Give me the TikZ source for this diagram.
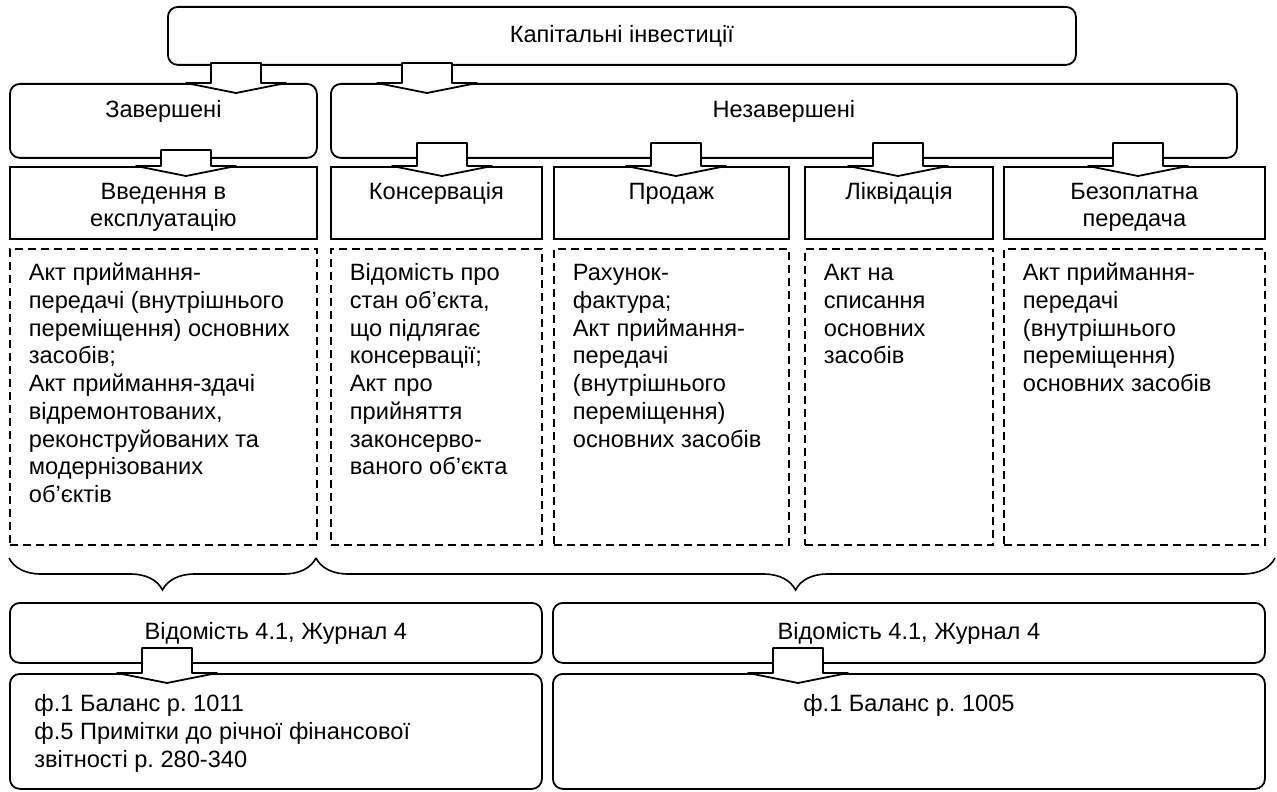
\documentclass[tikz,border=0pt]{standalone}
\usepackage{fontspec}
\setmainfont{Liberation Sans}
\usetikzlibrary{positioning,decorations.pathreplacing}
\frenchspacing

\newcommand{\boxtext}[4]{\parbox[c][#1][t]{#2}{\vspace*{#3}#4}}

\tikzset{
  pics/barrow/.style={code={
    \draw[barr] (-25,-#1) -- (25,-#1) -- (25,0) -- (50,0) -- (0,10) -- (-50,0) -- (-25,0) -- cycle;
  }}
}

\begin{document}
\begin{tikzpicture}[
  x=0.5pt, y=-0.5pt,
  font=\fontsize{11.8}{13.85}\selectfont,
  rbox/.style={draw, line width=0.9pt, rounded corners=5pt, inner sep=0pt, anchor=north west},
  sbox/.style={draw, line width=0.9pt, inner sep=0pt, anchor=north west},
  dbox/.style={draw, line width=0.9pt, dash pattern=on 4pt off 2.5pt, inner ysep=0pt, inner xsep=9.5pt, anchor=north west},
  barr/.style={fill=white, line width=0.9pt, line join=round},
  brc/.style={decorate, decoration={brace, mirror, amplitude=16pt}, line width=0.8pt}
]
  \useasboundingbox (0,0) rectangle (1277,791);

  \node[rbox, minimum width=454pt, minimum height=29pt] (cap) at (167,6) {Капітальні інвестиції};
  \node[rbox] (zav) at (9,83) {\boxtext{37pt}{153.5pt}{7.3pt}{\centering\strut Завершені}};
  \node[rbox] (nez) at (330,83) {\boxtext{37pt}{453pt}{7.3pt}{\centering\strut Незавершені}};

  \node[sbox] (vved) at (9,166) {\boxtext{36pt}{153.5pt}{6.5pt}{\centering\strut Введення в\\експлуатацію}};
  \node[sbox] (kons) at (330,166) {\boxtext{36pt}{105.5pt}{6.5pt}{\centering\strut Консервація}};
  \node[sbox] (prod) at (553,166) {\boxtext{36pt}{117.5pt}{6.5pt}{\centering\strut Продаж}};
  \node[sbox] (likv) at (804,166) {\boxtext{36pt}{94pt}{6.5pt}{\centering\strut Ліквідація}};
  \node[sbox] (bez) at (1003,166) {\boxtext{36pt}{130.5pt}{6.5pt}{\centering\strut Безоплатна\\передача}};

  \node[dbox] (d1) at (9,248) {\boxtext{148pt}{134.5pt}{6.3pt}{\raggedright\strut Акт приймання-\\передачі (внутрішнього\\переміщення) основних\\засобів;\\Акт приймання-здачі\\відремонтованих,\\реконструйованих та\\модернізованих\\об’єктів}};
  \node[dbox] (d2) at (330,248) {\boxtext{148pt}{86.5pt}{6.3pt}{\raggedright\strut Відомість про\\стан об’єкта,\\що підлягає\\консервації;\\Акт про\\прийняття\\законсерво-\\ваного об’єкта}};
  \node[dbox] (d3) at (553,248) {\boxtext{148pt}{98.5pt}{6.3pt}{\raggedright\strut Рахунок-\\фактура;\\Акт приймання-\\передачі\\(внутрішнього\\переміщення)\\основних засобів}};
  \node[dbox] (d4) at (804,248) {\boxtext{148pt}{75pt}{6.3pt}{\raggedright\strut Акт на\\списання\\основних\\засобів}};
  \node[dbox] (d5) at (1003,248) {\boxtext{148pt}{111.5pt}{6.3pt}{\raggedright\strut Акт приймання-\\передачі\\(внутрішнього\\переміщення)\\основних засобів}};

  \coordinate (b0) at (9,558);
  \coordinate (b1) at (316,558);
  \coordinate (b2) at (1275,558);
  \draw[brc] (b0) -- (b1);
  \draw[brc] (b1) -- (b2);

  \node[rbox, minimum width=266pt, minimum height=30pt] (vid1) at (9,602) {Відомість 4.1, Журнал 4};
  \node[rbox, minimum width=356pt, minimum height=30pt] (vid2) at (552,602) {Відомість 4.1, Журнал 4};
  \node[rbox, inner xsep=12.25pt] (bal1) at (9,673) {\boxtext{57.5pt}{241.5pt}{9.3pt}{\raggedright\strut ф.1 Баланс р. 1011\\ф.5 Примітки до річної фінансової\\звітності р. 280-340}};
  \node[rbox] (bal2) at (552,673) {\boxtext{57.5pt}{356pt}{9.3pt}{\centering\strut ф.1 Баланс р. 1005}};

  \pic at (zav.north -| 236,0) {barrow=20};
  \pic at (nez.north -| 427,0) {barrow=20};
  \pic at (vved.north -| 186,0) {barrow=16};
  \pic at (kons.north -| 442,0) {barrow=23};
  \pic at (prod.north -| 676,0) {barrow=23};
  \pic at (likv.north -| 898,0) {barrow=23};
  \pic at (bez.north -| 1138,0) {barrow=23};
  \pic at (bal1.north -| 167,0) {barrow=25};
  \pic at (bal2.north -| 798,0) {barrow=25};
\end{tikzpicture}
\end{document}
